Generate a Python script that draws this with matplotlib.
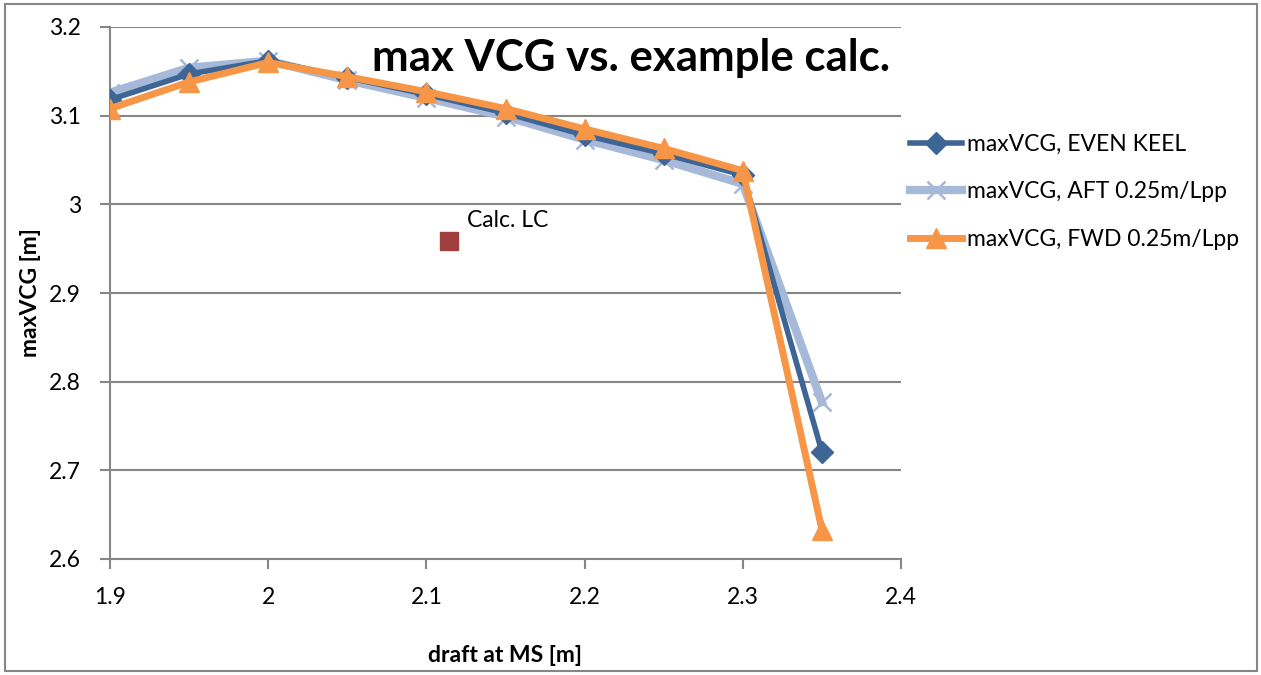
import matplotlib.pyplot as plt
from matplotlib.patches import Rectangle

plt.rcParams['font.family'] = ['Lato', 'DejaVu Sans']

draft = [1.9, 1.95, 2.0, 2.05, 2.1, 2.15, 2.2, 2.25, 2.3, 2.35]
even_keel = [3.118, 3.147, 3.162, 3.143, 3.124, 3.103, 3.078, 3.057, 3.033, 2.721]
aft = [3.126, 3.154, 3.162, 3.140, 3.120, 3.099, 3.073, 3.050, 3.023, 2.777]
fwd = [3.108, 3.138, 3.160, 3.144, 3.127, 3.108, 3.085, 3.063, 3.038, 2.633]

calc_x = [2.114]
calc_y = [2.959]

grey = '#868686'

fig = plt.figure(figsize=(12.61, 6.75), dpi=100)
ax = fig.add_axes([110/1261, 1 - 559/675, (901-110)/1261, (559-27)/675])

ax.plot(draft, even_keel, color='#3D6697', lw=4, marker='D', ms=11,
        label='maxVCG, EVEN KEEL', zorder=3)
ax.plot(draft, aft, color='#A6B9D8', lw=6, marker='x', ms=13, mew=1.8,
        label='maxVCG, AFT 0.25m/Lpp', zorder=2)
ax.plot(draft, fwd, color='#F79646', lw=5, marker='^', ms=14,
        label='maxVCG, FWD 0.25m/Lpp', zorder=4)
ax.plot(calc_x, calc_y, ls='none', marker='s', ms=13, color='#A0403E', zorder=5)
ax.annotate('Calc. LC', (calc_x[0], calc_y[0]), xytext=(13, 10),
            textcoords='offset points', fontsize=16.5)

ax.set_xlim(1.9, 2.4)
ax.set_ylim(2.6, 3.2)
ax.set_xticks([1.9, 2.0, 2.1, 2.2, 2.3, 2.4])
ax.set_xticklabels(['1.9', '2', '2.1', '2.2', '2.3', '2.4'])
ax.set_yticks([2.6, 2.7, 2.8, 2.9, 3.0, 3.1, 3.2])
ax.set_yticklabels(['2.6', '2.7', '2.8', '2.9', '3', '3.1', '3.2'])
ax.grid(axis='y', color=grey, lw=1.5)
ax.set_axisbelow(True)
for s in ['top', 'right']:
    ax.spines[s].set_visible(False)
for s in ['left', 'bottom']:
    ax.spines[s].set_color(grey)
    ax.spines[s].set_linewidth(1.5)
ax.tick_params(direction='out', length=7, width=1.5, color=grey,
               labelsize=16.5, pad=13)
ax.tick_params(axis='y', pad=14)

ax.set_xlabel('draft at MS [m]', fontsize=16.5, fontweight='bold')
ax.set_ylabel('maxVCG [m]', fontsize=16.5, fontweight='bold')
ax.xaxis.set_label_coords((505-110)/791, (559-645)/532)
ax.yaxis.set_label_coords((41-110)/791, 0.5)

fig.text(372/1261, 1 - 58/675, 'max VCG vs. example calc.', fontsize=31.5,
         fontweight='bold', va='center', ha='left')

ax.legend(loc='center left', bbox_to_anchor=(889/1261, 1 - 192/675),
          bbox_transform=fig.transFigure, frameon=False, fontsize=16.5,
          handlelength=2.3, handletextpad=0.2, labelspacing=1.15)

fig.patches.append(Rectangle((5/1261, 4/675), 1252/1261, 667/675,
                             transform=fig.transFigure, fill=False,
                             edgecolor=grey, lw=1.5))

plt.savefig('out.png', dpi=100)
